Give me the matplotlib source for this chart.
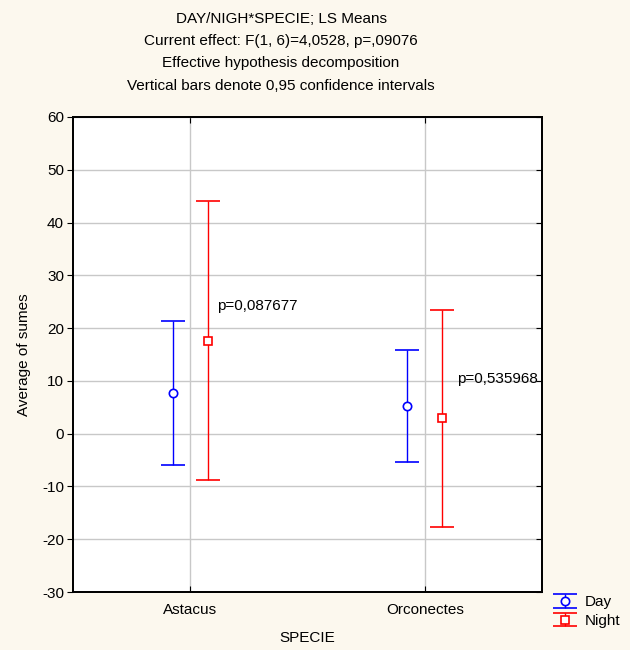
import numpy as np
import matplotlib
matplotlib.use("Agg")
import matplotlib.pyplot as plt
from matplotlib.legend_handler import HandlerErrorbar

plt.rcParams['font.family'] = ['Liberation Sans', 'DejaVu Sans']

# data
species = ['Astacus', 'Orconectes']
day_mean = [7.7, 5.3]
day_lo = [-6.0, -5.3]
day_hi = [21.4, 15.9]
night_mean = [17.6, 2.9]
night_lo = [-8.8, -17.6]
night_hi = [44.0, 23.4]
p_labels = ['p=0,087677', 'p=0,535968']
p_pos = [(1.113, 24.1), (2.136, 10.4)]
yticks = [-30, -20, -10, 0, 10, 20, 30, 40, 50, 60]

titles = ['DAY/NIGH*SPECIE; LS Means',
          'Current effect: F(1, 6)=4,0528, p=,09076',
          'Effective hypothesis decomposition',
          'Vertical bars denote 0,95 confidence intervals']

fs = 11
bg = '#FCF8EE'
W, H = 630, 650
fig = plt.figure(figsize=(W / 100, H / 100), dpi=100, facecolor=bg)
ax = fig.add_axes([73 / W, 1 - 592 / H, 469 / W, 475 / H])
ax.set_facecolor('white')

x = np.arange(1, len(species) + 1)
off = 0.075

dm = np.array(day_mean)
nm = np.array(night_mean)
day_err = [dm - np.array(day_lo), np.array(day_hi) - dm]
night_err = [nm - np.array(night_lo), np.array(night_hi) - nm]

ax.errorbar(x - off, dm, yerr=day_err, fmt='o', color='#0000FF', mfc='white',
            mec='#0000FF', ms=6, mew=1.2, capsize=8.5, elinewidth=1, capthick=1,
            label='Day', zorder=3)
ax.errorbar(x + off, nm, yerr=night_err, fmt='s', color='#FF0000', mfc='white',
            mec='#FF0000', ms=6, mew=1.2, capsize=8.5, elinewidth=1, capthick=1,
            label='Night', zorder=3)

for lab, (px, py) in zip(p_labels, p_pos):
    ax.text(px, py, lab, fontsize=fs, va='center', ha='left', zorder=4)

ax.set_xlim(0.5, 2.5)
ax.set_ylim(-30, 60)
ax.set_xticks(x)
ax.set_xticklabels(species, fontsize=fs)
ax.set_yticks(yticks)
ax.set_yticklabels([str(v) for v in yticks], fontsize=fs)
ax.grid(True, color='#C8C8C8', lw=1, zorder=0)
ax.set_axisbelow(True)

ax.tick_params(axis='y', which='both', direction='out', length=4.5, pad=2,
               left=True, right=False)
ax.tick_params(axis='x', which='both', direction='in', length=4.5, pad=8,
               top=True, bottom=True)
# inward ticks on the right side
ax2 = ax.twinx()
ax2.set_ylim(ax.get_ylim())
ax2.set_yticks(yticks)
ax2.set_yticklabels([])
ax2.tick_params(axis='y', direction='in', length=4.5)
for a in (ax, ax2):
    for s in a.spines.values():
        s.set_linewidth(1.3)

ax.set_xlabel('SPECIE', fontsize=fs, labelpad=10)
ax.set_ylabel('Average of sumes', fontsize=fs, labelpad=8)

ty = [19, 41, 63, 86]
for t, yy in zip(titles, ty):
    fig.text(281 / W, 1 - yy / H, t, ha='center', va='center', fontsize=fs)

h, l = ax.get_legend_handles_labels()
fig.legend(h, l, loc='upper left', bbox_to_anchor=(553 / W, 1 - 595 / H),
           frameon=False, fontsize=fs, handlelength=1.6, handletextpad=0.45,
           labelspacing=0.32, borderpad=0, borderaxespad=0,
           handler_map={type(h[0]): HandlerErrorbar(xerr_size=0.5, yerr_size=0.45,
                                                   numpoints=1)})

fig.savefig('out.png', dpi=100, facecolor=bg)
